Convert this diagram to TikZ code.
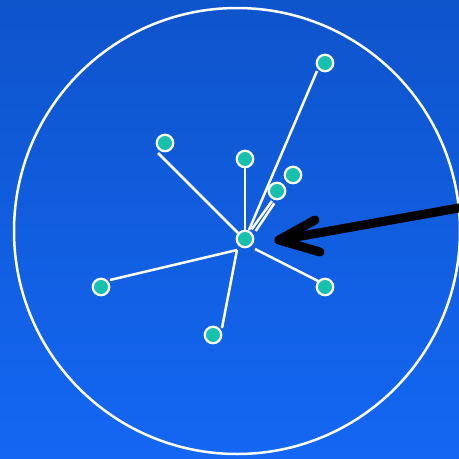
\documentclass[tikz,border=0pt]{standalone}
\usetikzlibrary{calc}
\definecolor{bgtop}{HTML}{0E54CB}
\definecolor{bgbot}{HTML}{1467F3}
\definecolor{teal}{HTML}{17C1AE}
\pgfdeclarelayer{links}
\pgfsetlayers{links,main}
\tikzset{
  dot/.style={circle, draw=white, line width=2.2pt, fill=teal, minimum size=16.5pt, inner sep=0pt},
  link/.style={draw=white, line width=2.5pt},
  pointer/.style={draw=black, line width=9pt, line cap=round, line join=round}
}
\begin{document}
\begin{tikzpicture}[x=1pt, y=-1pt]
\begin{pgfonlayer}{links}
\shade[top color=bgtop, bottom color=bgbot] (0,0) rectangle (459,459);
\end{pgfonlayer}
\useasboundingbox (0,0) rectangle (459,459);
\node[dot] (c)  at (245,239) {};
\node[dot] (n1) at (325,63) {};
\node[dot] (n2) at (165,143) {};
\node[dot] (n3) at (245,159) {};
\node[dot] (n4) at (293,175) {};
\node[dot] (n5) at (277,191) {};
\node[dot] (n6) at (101,287) {};
\node[dot] (n7) at (325,287) {};
\node[dot] (n8) at (213,335) {};
\begin{pgfonlayer}{links}
\draw[white, line width=2.5pt] (237,231) circle[radius=223];
\path[link] ($(c)+(4,-9)$) -- ($(n1)+(-8,8)$);
\path[link] ($(c)+(-7,-6)$) -- ($(n2)+(-7,10)$);
\path[link] ($(c)+(0,-8)$) -- ($(n3)+(0,8)$);
\path[link] ($(c)+(10.7,-8)$) -- ($(n5)+(-2.7,12.3)$);
\path[link] ($(c)+(6.7,-9.7)$) -- ($(n5)+(-5,10)$);
\path[link] ($(c)+(-8,11)$) -- ($(n6)+(9,-7)$);
\path[link] ($(c)+(-8,11)$) -- ($(n8)+(9,-7)$);
\path[link] ($(c)+(10,10)$) -- ($(n7)+(-7,-6)$);
\end{pgfonlayer}
% arrow
\coordinate (tail) at (470,206);
\coordinate (tip) at (279,240);
\coordinate (barbA) at (315,220);
\coordinate (barbB) at (320,252);
\path[pointer] (tail) -- (tip);
\path[pointer] (barbA) -- (tip) -- (barbB);
\end{tikzpicture}
\end{document}
